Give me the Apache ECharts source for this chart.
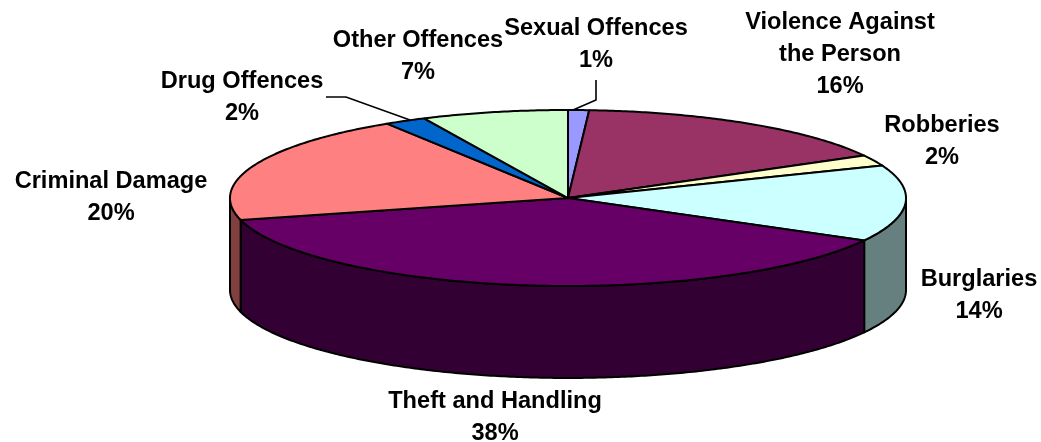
<!DOCTYPE html>
<html>
<head>
<meta charset="utf-8">
<style>html,body{margin:0;padding:0;background:#fff}#chart{width:1041px;height:442px}</style>
<script src="https://cdn.jsdelivr.net/npm/echarts@6/dist/echarts.min.js"></script>
</head>
<body>
<div id="chart"></div>
<script>
// Recorded crime by offence group, share of total (%), clockwise from twelve o'clock
const categories = ['Sexual Offences', 'Violence Against\nthe Person', 'Robberies', 'Burglaries',
  'Theft and Handling', 'Criminal Damage', 'Drug Offences', 'Other Offences'];
const values = [1, 16, 2, 14, 38, 20, 2, 7];
const topColors = ['#9999FF', '#993366', '#FFFFCC', '#CCFFFF', '#660066', '#FF8080', '#0066CC', '#CCFFCC'];
const sideColors = ['#666699', '#662244', '#808066', '#668080', '#330033', '#804040', '#004080', '#668066'];

// Label anchors in page pixels (centre of the text block)
const labelAnchors = [[596, 44], [840, 54], [942, 141], [979, 295], [495, 417], [111, 197], [242, 97], [418, 56]];
// Leader lines for the two narrowest slices
const leaders = [
  [[596, 80], [596, 100], [573, 110]],
  [[326, 97], [346, 97], [410, 120]]
];

const total = values.reduce((a, b) => a + b, 0);
const depth = 1.045;       // wall height, in units of the vertical radius
const strokeW = 2;

function sliceAngles(i) {
  let before = 0;
  for (let k = 0; k < i; k++) before += values[k];
  return [before / total * 2 * Math.PI, (before + values[i]) / total * 2 * Math.PI];
}
function rimPoint(api, t, drop) {
  return api.coord([Math.sin(t), Math.cos(t) - drop]);
}
function arc(api, a, b, drop) {
  const n = Math.max(2, Math.ceil((b - a) / 0.01));
  const pts = [];
  for (let j = 0; j <= n; j++) pts.push(rimPoint(api, a + (b - a) * j / n, drop));
  return pts;
}

function renderTop(params, api) {
  const [a, b] = sliceAngles(params.dataIndex);
  const pts = [api.coord([0, 0])].concat(arc(api, a, b, 0));
  return {
    type: 'polygon',
    shape: { points: pts },
    style: { fill: topColors[params.dataIndex], stroke: '#000', lineWidth: strokeW, lineJoin: 'round' }
  };
}

function renderWall(params, api) {
  const [a, b] = sliceAngles(params.dataIndex);
  // Only the near half of the rim (90 to 270 degrees) shows a wall
  const lo = Math.max(a, Math.PI / 2), hi = Math.min(b, 3 * Math.PI / 2);
  if (hi <= lo) return null;
  const pts = arc(api, lo, hi, 0).concat(arc(api, lo, hi, depth).reverse());
  return {
    type: 'polygon',
    shape: { points: pts },
    style: { fill: sideColors[params.dataIndex], stroke: '#000', lineWidth: strokeW, lineJoin: 'round' }
  };
}

function renderLeader(params) {
  return {
    type: 'polyline',
    shape: { points: leaders[params.dataIndex] },
    style: { fill: null, stroke: '#000', lineWidth: 1.6 }
  };
}

function renderLabel(params) {
  const p = labelAnchors[params.dataIndex];
  return {
    type: 'text',
    x: p[0], y: p[1],
    style: {
      text: categories[params.dataIndex] + '\n' + values[params.dataIndex] + '%',
      fill: '#000',
      font: 'bold 23.6px "Liberation Sans", Arial, sans-serif',
      lineHeight: 32,
      align: 'center',
      verticalAlign: 'middle'
    }
  };
}

const sliceData = values.map((v, i) => [i, v]);
const chart = echarts.init(document.getElementById('chart'), null, { renderer: 'canvas' });
chart.setOption({
  backgroundColor: '#fff',
  animation: false,
  tooltip: { show: false },
  grid: { left: 230, top: 110, width: 676, height: 176, containLabel: false },
  xAxis: { type: 'value', min: -1, max: 1, show: false },
  yAxis: { type: 'value', min: -1, max: 1, show: false },
  series: [
    { type: 'custom', name: 'walls', renderItem: renderWall, data: sliceData, silent: true, z: 1 },
    { type: 'custom', name: 'slices', renderItem: renderTop, data: sliceData, silent: true, z: 2 },
    { type: 'custom', name: 'leaders', renderItem: renderLeader, data: leaders.map((l, i) => [i]), silent: true, z: 3 },
    { type: 'custom', name: 'labels', renderItem: renderLabel, data: sliceData, silent: true, z: 4 }
  ]
});
</script>
</body>
</html>
